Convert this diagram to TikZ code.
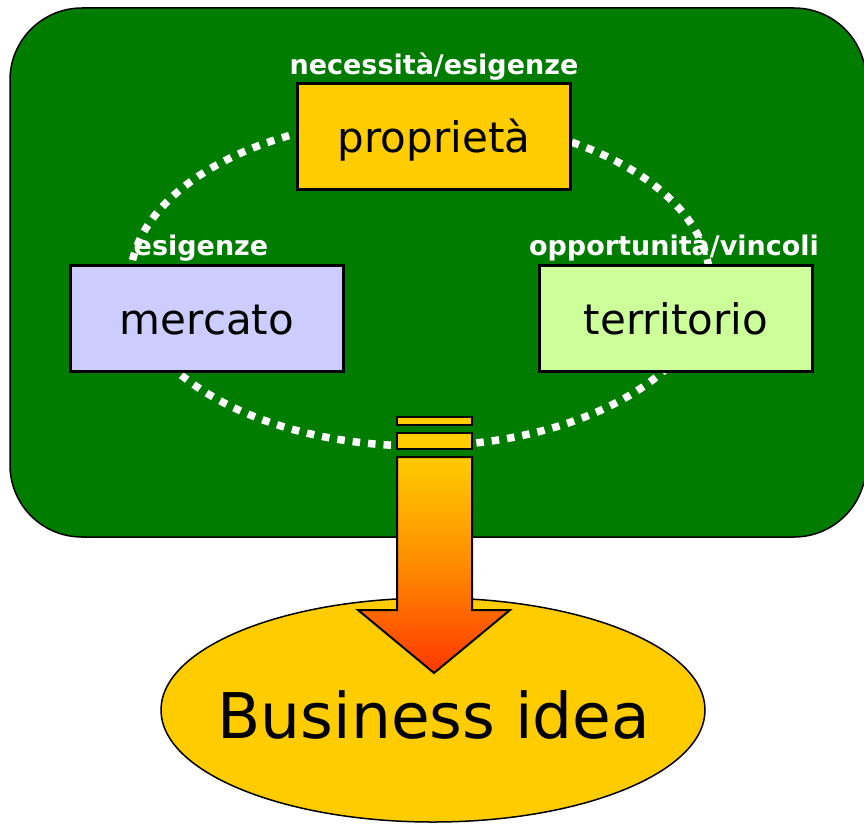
\documentclass[tikz,border=0pt]{standalone}
\usepackage{fontspec}
\setmainfont{DejaVu Sans}
\usetikzlibrary{shapes.geometric}
\definecolor{bggreen}{RGB}{0,124,0}
\definecolor{gold}{RGB}{255,204,0}
\definecolor{lilac}{RGB}{204,204,255}
\definecolor{lime}{RGB}{204,255,153}
\definecolor{arrowmid}{RGB}{255,140,0}
\definecolor{arrowtip}{RGB}{255,56,0}
\tikzset{
  box/.style={draw=black, line width=2.2pt, minimum width=273pt, minimum height=106pt, inner sep=0pt,
    text height=31pt, text depth=0pt, font=\fontsize{42}{48}\selectfont},
  lbl/.style={text=white, inner sep=0pt, anchor=base, font=\bfseries\fontsize{27}{30}\selectfont},
  dots/.style={draw=white, line width=7.5pt, dash pattern=on 7.5pt off 8pt},
  arrowline/.style={draw=black, line width=2pt, line join=miter}
}
\begin{document}
\begin{tikzpicture}[x=1pt,y=-1pt]
\useasboundingbox (0,0) rectangle (864,824);
\clip (0,0) rectangle (864,824);
% background panel
\draw[fill=bggreen, draw=black, line width=1.5pt, rounded corners=72pt] (10,8) rectangle (866,537);
% dotted ring
\draw[dots] (420,282) ellipse [x radius=290pt, y radius=164pt];
% boxes
\node[box, fill=gold] (prop) at (434,136.5) {propriet\`a};
\node[box, fill=lilac] (merc) at (207,318.5) {mercato};
\node[box, fill=lime] (terr) at (676,318.5) {territorio};
% labels
\node[lbl] (l1) at (434,75) {necessit\`a/esigenze};
\node[lbl] (l2) at (201,255) {esigenze};
\node[lbl] (l3) at (674,255) {opportunit\`a/vincoli};
% business idea
\node[ellipse, draw=black, line width=1.5pt, fill=gold, minimum width=544pt, minimum height=224pt,
  inner sep=0pt] (idea) at (433,710) {};
\node[inner sep=0pt, anchor=base, font=\fontsize{63}{72}\selectfont] (ideatext) at (434,738) {Business idea};
% block arrow
\draw[arrowline, fill=gold] (397,417) rectangle (472,425);
\draw[arrowline, fill=gold] (397,433) rectangle (472,449);
\path[top color=gold, bottom color=arrowtip, middle color=arrowmid]
  (397,457) -- (472,457) -- (472,610) -- (510,610) -- (434,673) -- (358,610) -- (397,610) -- cycle;
\draw[arrowline]
  (397,457) -- (472,457) -- (472,610) -- (510,610) -- (434,673) -- (358,610) -- (397,610) -- cycle;
\end{tikzpicture}
\end{document}
